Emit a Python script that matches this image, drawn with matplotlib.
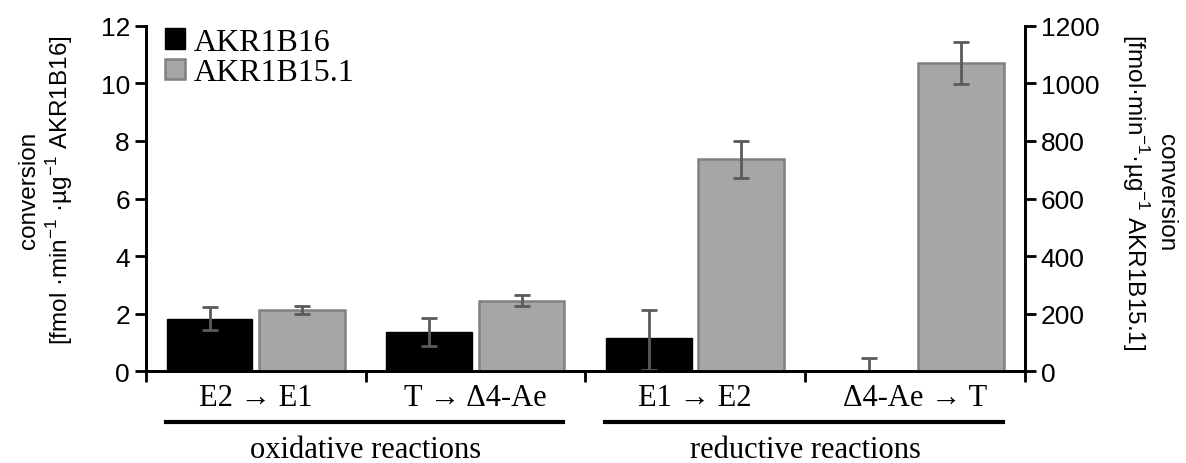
import numpy as np
import matplotlib
matplotlib.use("Agg")
import matplotlib.pyplot as plt

plt.rcParams['mathtext.fontset'] = 'custom'
plt.rcParams['mathtext.rm'] = 'Liberation Sans'

# data
reactions = ['E2 → E1', 'T → Δ4-Ae', 'E1 → E2', 'Δ4-Ae → T']
groups = ['oxidative reactions', 'reductive reactions']
akr1b16 = [1.82, 1.36, 1.14, 0.02]            # left axis
akr1b16_err_low = [0.40, 0.49, 1.10, 0.02]
akr1b16_err_up = [0.40, 0.49, 0.99, 0.43]
akr1b15 = [212, 245, 737, 1071]                # right axis
akr1b15_err = [14, 20, 64, 73]

sans = 'Liberation Sans'
serif = 'Liberation Serif'

fig = plt.figure(figsize=(11.86, 4.64), dpi=100)
ax = fig.add_axes([0.123, 0.198, 0.741, 0.744])
ax2 = ax.twinx()

x = np.arange(len(reactions))
w = 0.39
off = 0.21

ax.bar(x - off, akr1b16, w, color='black', edgecolor='black', zorder=2, label='AKR1B16')
ax.errorbar(x - off, akr1b16, yerr=[akr1b16_err_low, akr1b16_err_up], fmt='none',
            ecolor='#5a5a5a', elinewidth=2, capsize=6, capthick=2, zorder=3)
ax2.bar(x + off, akr1b15, w, color='#a6a6a6', edgecolor='#808080', linewidth=1.8, zorder=2, label='AKR1B15.1')
ax2.errorbar(x + off, akr1b15, yerr=akr1b15_err, fmt='none',
             ecolor='#5a5a5a', elinewidth=2, capsize=6, capthick=2, zorder=3)

ax.set_xlim(-0.5, 3.5)
ax.set_ylim(0, 12)
ax2.set_ylim(0, 1200)
ax.set_yticks(np.arange(0, 13, 2))
ax2.set_yticks(np.arange(0, 1201, 200))

# x ticks at category boundaries, labels centred beneath
ax.set_xticks(np.arange(-0.5, 4, 1))
ax.set_xticklabels([])
ax.tick_params(axis='x', direction='out', length=8, width=2)
xt = ax.get_xaxis_transform()
for i, lab in enumerate(reactions):
    ax.text(i, -0.075, lab, transform=xt, ha='center', va='center', fontsize=22, family=serif)

# group brackets
for j, g in enumerate(groups):
    x0, x1 = 2 * j - 0.41, 2 * j + 1.40
    ax.plot([x0, x1], [-0.148, -0.148], transform=xt, color='black', lw=3, clip_on=False)
    ax.text(2 * j + 0.5, -0.228, g, transform=xt, ha='center', va='center', fontsize=22, family=serif)

for a in (ax, ax2):
    a.spines['top'].set_visible(False)
    for s in a.spines.values():
        s.set_linewidth(2)
    a.tick_params(axis='y', direction='out', length=8, width=2, labelsize=19)
    for t in a.get_yticklabels():
        t.set_family(sans)

ax.set_ylabel('conversion\n[fmol ·min$^{-1}$ ·µg$^{-1}$ AKR1B16]', fontsize=17.5,
              family=sans, linespacing=1.2, va='center', ha='center', rotation_mode='anchor')
ax.yaxis.set_label_coords(-0.113, 0.527)
ax2.set_ylabel('conversion\n[fmol·min$^{-1}$·µg$^{-1}$ AKR1B15.1]', fontsize=17.5,
               family=sans, rotation=270, linespacing=1.2, va='center', ha='center',
               rotation_mode='anchor')
ax2.yaxis.set_label_coords(1.141, 0.52)

h1, l1 = ax.get_legend_handles_labels()
h2, l2 = ax2.get_legend_handles_labels()
ax2.legend(h1 + h2, l1 + l2, loc='upper left', bbox_to_anchor=(0.0216, 0.995), frameon=False,
           prop={'family': serif, 'size': 23}, handlelength=0.62, handleheight=0.62,
           handletextpad=0.3, labelspacing=0.05, borderpad=0, borderaxespad=0)

fig.savefig('out.png', dpi=100)
